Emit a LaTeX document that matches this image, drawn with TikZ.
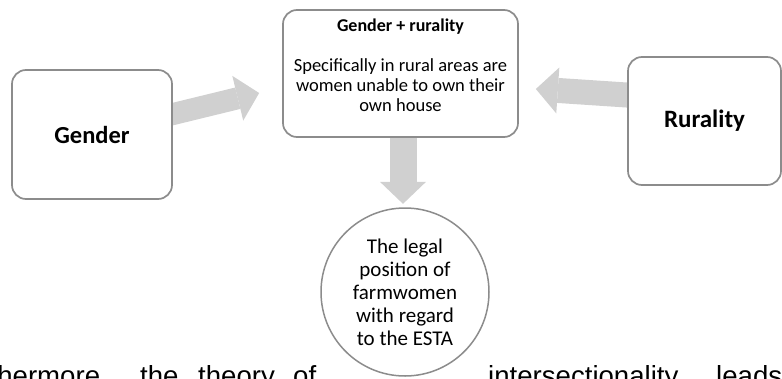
\documentclass[tikz,border=0pt]{standalone}
\usepackage{fontspec}
\setmainfont{Carlito}
\newfontfamily\pagefont{Liberation Sans}
\usetikzlibrary{arrows.meta,calc,backgrounds}

\definecolor{boxline}{HTML}{8C8C8C}
\definecolor{arrowfill}{HTML}{D0D0D0}

\tikzset{
    factbox/.style={draw=boxline, line width=1.7pt, fill=white, rounded corners=14pt,
        align=center, inner sep=0pt},
    bigarrow/.style={draw=arrowfill, line width=24pt,
        -{Triangle[length=22pt,width=46pt,line width=0pt]}},
    pagetext/.style={font=\pagefont\fontsize{27.6}{33}\selectfont, anchor=base west, inner sep=0pt},
}

\begin{document}
\begin{tikzpicture}[x=1pt,y=-1pt]
    \useasboundingbox (0,0) rectangle (782,378);
    \clip (0,0) rectangle (782,378);

    % running text of the page
    \node[pagetext, anchor=base east] (word1) at (108,385) {thermore,};
    \node[pagetext] (word2) at (140,385) {the};
    \node[pagetext] (word3) at (198,385) {theory};
    \node[pagetext] (word4) at (293,385) {of};
    \node[pagetext] (word5) at (488,385) {intersectionality};
    \node[pagetext] (word6) at (716,385) {leads};

    \node[factbox, minimum width=160, minimum height=129,
        font=\bfseries\fontsize{24.5}{29}\selectfont] (gender) at (92,134.5) {Gender};
    \node[factbox, minimum width=153, minimum height=128,
        font=\bfseries\fontsize{25}{29}\selectfont] (rural) at (704.5,121) {Rurality};
    \node[factbox, minimum width=235, minimum height=127] (mid) at (400.5,73.5) {};
    \node[anchor=north, inner sep=0pt, font=\bfseries\fontsize{18}{20}\selectfont]
        (midtitle) at (400.5,18.5) {Gender + rurality};
    \node[anchor=north, inner sep=0pt, align=center, font=\fontsize{18.5}{20}\selectfont]
        (midtext) at (400.5,58) {Specifically in rural areas are\\women unable to own their\\own house};

    \node[draw=boxline, line width=1.5pt, circle, fill=white, minimum size=168, inner sep=0pt,
        align=center, font=\fontsize{21}{23}\selectfont] (goal) at (405,292)
        {The legal\\position of\\farmwomen\\with regard\\to the ESTA};

    \begin{scope}[on background layer]
        \draw[bigarrow, line width=22pt] ($(gender.east)+(-12,-17.5)$) -- ($(mid.west)+(-23,19.5)$);
        \draw[bigarrow, line width=25pt] ($(rural.west)+(10,-25.3)$) -- ($(mid.east)+(17,15.5)$);
        \draw[bigarrow, line width=27pt] ($(mid.south)+(2.5,-5)$) -- ($(mid.south)+(2.5,66)$);
    \end{scope}
\end{tikzpicture}
\end{document}
